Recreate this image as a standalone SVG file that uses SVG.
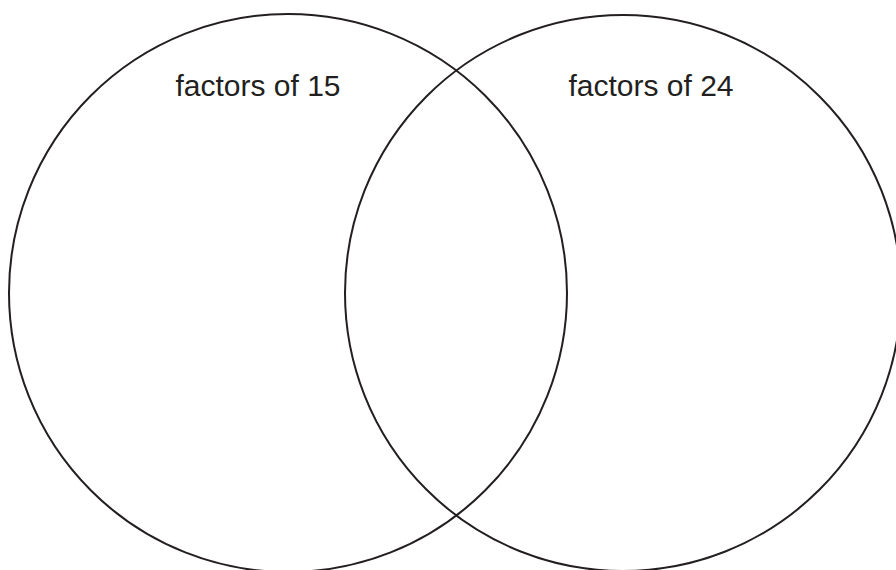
<svg xmlns="http://www.w3.org/2000/svg" width="896" height="570" viewBox="0 0 896 570">
<style>
.set{fill:none;stroke:#231f20;stroke-width:2}
.lbl{font-family:"Liberation Sans",Arial,sans-serif;font-size:30px;fill:#231f20;text-anchor:middle}
</style>
<rect width="896" height="570" fill="#ffffff"/>
<g id="set-15">
<circle class="set" cx="288" cy="293" r="279"/>
<text class="lbl" x="258" y="96">factors of 15</text>
</g>
<g id="set-24">
<circle class="set" cx="623" cy="293" r="278"/>
<text class="lbl" x="651" y="96">factors of 24</text>
</g>
<g id="connectors"></g>
</svg>
